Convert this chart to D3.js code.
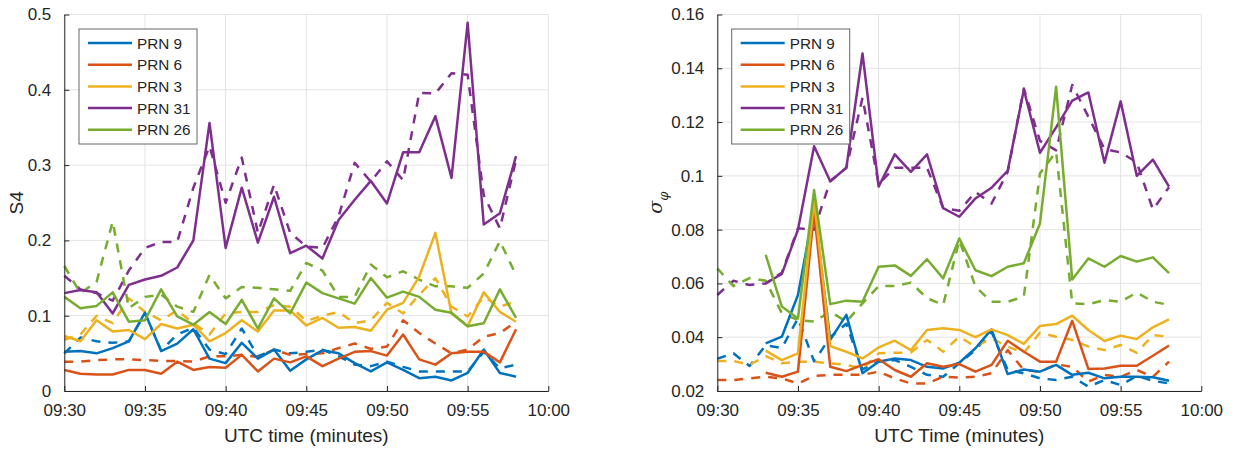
<!DOCTYPE html>
<html>
<head>
<meta charset="utf-8">
<script src="https://cdn.jsdelivr.net/npm/d3@7"></script>
<style>
  body { margin: 0; background: #fff; }
  svg text { font-family: "Liberation Sans", Arial, sans-serif; fill: #262626; }
</style>
</head>
<body>
<div id="chart"></div>
<script>
// minutes after 09:30, one sample per minute
const minutes = [0,1,2,3,4,5,6,7,8,9,10,11,12,13,14,15,16,17,18,19,20,21,22,23,24,25,26,27,28];
const timeTickValues = [0,5,10,15,20,25,30];
const timeTickLabels = ["09:30","09:35","09:40","09:45","09:50","09:55","10:00"];

const prnNames = ["PRN 9","PRN 6","PRN 3","PRN 31","PRN 26"];
const prnColors = ["#0072BD","#D95319","#EDB120","#7E2F8E","#77AC30"];

// S4 (left panel) - solid and dashed
const s4Prn9 = [0.052,0.053,0.05,0.057,0.066,0.104,0.053,0.063,0.082,0.043,0.037,0.064,0.043,0.055,0.027,0.042,0.054,0.05,0.037,0.026,0.038,0.028,0.017,0.019,0.014,0.024,0.055,0.024,0.019];
const s4Prn9Dash = [0.05,0.071,0.066,0.064,0.066,0.103,0.054,0.075,0.084,0.055,0.049,0.083,0.046,0.055,0.05,0.052,0.055,0.046,0.035,0.033,0.039,0.032,0.026,0.026,0.026,0.026,0.052,0.03,0.035];
const s4Prn6 = [0.028,0.023,0.022,0.022,0.028,0.028,0.023,0.039,0.028,0.032,0.031,0.048,0.026,0.043,0.038,0.046,0.033,0.043,0.052,0.053,0.047,0.075,0.042,0.035,0.05,0.052,0.052,0.038,0.082];
const s4Prn6Dash = [0.039,0.039,0.041,0.042,0.042,0.041,0.04,0.04,0.039,0.046,0.046,0.048,0.045,0.055,0.048,0.049,0.05,0.057,0.063,0.056,0.059,0.094,0.077,0.063,0.05,0.055,0.072,0.077,0.092];
const s4Prn3 = [0.073,0.066,0.094,0.079,0.081,0.069,0.089,0.083,0.088,0.066,0.077,0.094,0.079,0.107,0.107,0.087,0.097,0.084,0.085,0.08,0.108,0.117,0.152,0.21,0.103,0.086,0.131,0.105,0.092];
const s4Prn3Dash = [0.068,0.075,0.1,0.09,0.123,0.105,0.094,0.107,0.09,0.075,0.103,0.105,0.105,0.114,0.112,0.093,0.1,0.105,0.09,0.094,0.117,0.103,0.128,0.15,0.112,0.099,0.125,0.112,0.119];
const s4Prn31 = [0.13,0.134,0.131,0.103,0.141,0.148,0.153,0.164,0.2,0.356,0.19,0.27,0.197,0.258,0.183,0.193,0.176,0.227,0.254,0.279,0.249,0.317,0.317,0.365,0.283,0.489,0.221,0.236,0.312];
const s4Prn31Dash = [0.153,0.135,0.13,0.12,0.16,0.19,0.198,0.198,0.27,0.325,0.25,0.31,0.21,0.274,0.21,0.192,0.19,0.232,0.303,0.278,0.305,0.28,0.396,0.395,0.422,0.42,0.26,0.216,0.307];
const s4Prn26 = [0.125,0.11,0.113,0.131,0.092,0.094,0.135,0.099,0.088,0.105,0.089,0.121,0.083,0.123,0.103,0.144,0.13,0.123,0.116,0.15,0.124,0.132,0.125,0.108,0.104,0.086,0.09,0.135,0.097];
const s4Prn26Dash = [0.166,0.13,0.145,0.225,0.11,0.125,0.128,0.112,0.105,0.154,0.123,0.138,0.137,0.135,0.133,0.17,0.16,0.125,0.125,0.168,0.151,0.159,0.148,0.139,0.139,0.137,0.156,0.199,0.154];

// sigma phi (right panel) - solid lines start at 09:33
const phiPrn9 = [null,null,null,0.0377,0.0402,0.0557,0.088,0.039,0.0483,0.0266,0.0309,0.0321,0.0315,0.029,0.0284,0.0305,0.0359,0.0429,0.0263,0.028,0.0272,0.0297,0.026,0.0268,0.0247,0.0253,0.0253,0.0251,0.0238];
const phiPrn9Dash = [0.032,0.034,0.0293,0.037,0.036,0.047,0.031,0.04,0.045,0.028,0.031,0.0315,0.029,0.026,0.0253,0.0303,0.0352,0.042,0.0278,0.0266,0.0247,0.0241,0.0253,0.0216,0.0241,0.0222,0.0256,0.0238,0.0228];
const phiPrn6 = [null,null,null,0.0268,0.0253,0.0272,0.0867,0.029,0.0274,0.0297,0.0318,0.0278,0.0253,0.0303,0.029,0.03,0.0272,0.0297,0.0387,0.0346,0.0309,0.0309,0.0461,0.0282,0.0284,0.0294,0.0294,0.0331,0.0369];
const phiPrn6Dash = [0.0241,0.0241,0.0247,0.0253,0.0247,0.0228,0.0256,0.026,0.026,0.026,0.0272,0.0247,0.0228,0.0228,0.0253,0.025,0.0253,0.0266,0.0352,0.0278,0.0272,0.0299,0.029,0.0235,0.026,0.0253,0.0278,0.0253,0.0309];
const phiPrn3 = [null,null,null,0.035,0.0315,0.034,0.091,0.0367,0.0346,0.0321,0.0362,0.0387,0.0352,0.0427,0.0433,0.0427,0.04,0.0429,0.0408,0.0375,0.0442,0.0449,0.048,0.0427,0.0386,0.0406,0.0393,0.0437,0.0466];
const phiPrn3Dash = [0.0312,0.0312,0.0297,0.033,0.0303,0.0309,0.0309,0.0303,0.0297,0.0284,0.034,0.0342,0.0343,0.039,0.0346,0.0402,0.0365,0.0396,0.0365,0.0342,0.0417,0.0402,0.039,0.0365,0.0352,0.0371,0.0342,0.0408,0.0402];
const phiPrn31 = [null,null,null,0.06,0.0635,0.08,0.111,0.098,0.103,0.1455,0.096,0.108,0.1015,0.108,0.088,0.0848,0.0916,0.0956,0.1019,0.132,0.1086,0.118,0.128,0.131,0.1049,0.1277,0.1,0.106,0.096];
const phiPrn31Dash = [0.0557,0.061,0.0594,0.06,0.064,0.0805,0.08,0.098,0.103,0.129,0.097,0.103,0.103,0.103,0.088,0.087,0.094,0.0897,0.1015,0.1325,0.113,0.1095,0.1338,0.122,0.11,0.1087,0.105,0.0875,0.0958];
const phiPrn26 = [null,null,null,0.0706,0.0514,0.047,0.0947,0.0523,0.0536,0.0532,0.0662,0.0667,0.0628,0.069,0.0619,0.0767,0.0649,0.0627,0.0662,0.0675,0.0823,0.1331,0.0615,0.0693,0.0662,0.0702,0.0681,0.0697,0.0638];
const phiPrn26Dash = [0.0656,0.059,0.062,0.061,0.0489,0.0464,0.0458,0.0495,0.0458,0.0526,0.059,0.059,0.0603,0.0545,0.052,0.0761,0.0588,0.0532,0.0532,0.0551,0.1009,0.109,0.0526,0.0523,0.0538,0.0532,0.0566,0.0532,0.052];

const s4Ticks = [0,0.1,0.2,0.3,0.4,0.5];
const s4TickLabels = ["0","0.1","0.2","0.3","0.4","0.5"];
const phiTicks = [0.02,0.04,0.06,0.08,0.1,0.12,0.14,0.16];
const phiTickLabels = ["0.02","0.04","0.06","0.08","0.1","0.12","0.14","0.16"];

const svg = d3.select("#chart").append("svg")
    .attr("width", 1234)
    .attr("height", 450);

// draw one panel
function drawPanel(p) {
    const x = d3.scaleLinear().domain([0, 30]).range([p.left, p.right]);
    const y = d3.scaleLinear().domain(p.yDomain).range([p.bottom, p.top]);
    const g = svg.append("g");

    // grid
    g.append("g").selectAll("line.gx")
        .data(timeTickValues).enter().append("line")
        .attr("x1", d => x(d)).attr("x2", d => x(d))
        .attr("y1", p.top).attr("y2", p.bottom)
        .attr("stroke", "#e3e3e3").attr("stroke-width", 1);
    g.append("g").selectAll("line.gy")
        .data(p.yTicks).enter().append("line")
        .attr("x1", p.left).attr("x2", p.right)
        .attr("y1", d => y(d)).attr("y2", d => y(d))
        .attr("stroke", "#e3e3e3").attr("stroke-width", 1);

    // lines: dashed first, solid on top
    const line = d3.line()
        .defined(d => d.v != null)
        .x(d => x(d.m))
        .y(d => y(d.v));

    p.series.forEach((s, i) => {
        g.append("path")
            .datum(minutes.map((m, k) => ({ m: m, v: s.dash[k] })))
            .attr("fill", "none")
            .attr("stroke", prnColors[i])
            .attr("stroke-width", 2.5)
            .attr("stroke-dasharray", "9,8")
            .attr("stroke-linejoin", "round")
            .attr("d", line);
    });
    p.series.forEach((s, i) => {
        g.append("path")
            .datum(minutes.map((m, k) => ({ m: m, v: s.solid[k] })))
            .attr("fill", "none")
            .attr("stroke", prnColors[i])
            .attr("stroke-width", 2.5)
            .attr("stroke-linejoin", "round")
            .attr("d", line);
    });

    // axes (matlab style, ticks inside)
    const xAxis = d3.axisBottom(x)
        .tickValues(timeTickValues)
        .tickFormat((d, i) => timeTickLabels[i])
        .tickSizeInner(-5).tickSizeOuter(0).tickPadding(13);
    const gx = g.append("g")
        .attr("transform", `translate(0,${p.bottom})`)
        .call(xAxis);
    const yAxis = d3.axisLeft(y)
        .tickValues(p.yTicks)
        .tickFormat((d, i) => p.yTickLabels[i])
        .tickSizeInner(-5).tickSizeOuter(0).tickPadding(13);
    const gy = g.append("g")
        .attr("transform", `translate(${p.left},0)`)
        .call(yAxis);
    [gx, gy].forEach(a => {
        a.select(".domain").attr("stroke", "#262626").attr("stroke-width", 1);
        a.selectAll(".tick line").attr("stroke", "#262626");
        a.selectAll(".tick text")
            .style("font-family", "'Liberation Sans', Arial, sans-serif")
            .style("font-size", "17px")
            .attr("fill", "#262626");
    });

    // axis titles
    g.append("text")
        .attr("x", (p.left + p.right) / 2)
        .attr("y", 442)
        .attr("text-anchor", "middle")
        .style("font-size", "19px")
        .text(p.xLabel);

    const yl = g.append("text")
        .attr("transform", `translate(${p.yLabelX},${(p.top + p.bottom) / 2}) rotate(-90)`)
        .attr("text-anchor", "middle")
        .style("font-size", "19px");
    if (p.yLabel === "sigma") {
        yl.append("tspan").style("font-family", "'DejaVu Serif', serif").style("font-style", "italic").text("σ");
        yl.append("tspan").attr("dy", 6).style("font-size", "13px")
            .style("font-family", "'DejaVu Serif', serif").style("font-style", "italic").text("φ");
    } else {
        yl.text(p.yLabel);
    }

    // legend
    const lg = g.append("g").attr("transform", `translate(${p.legendX},29)`);
    lg.append("rect")
        .attr("width", 118).attr("height", 115)
        .attr("fill", "#fff")
        .attr("stroke", "#666").attr("stroke-width", 1);
    prnNames.forEach((name, i) => {
        const yy = 14 + i * 21.7;
        lg.append("line")
            .attr("x1", 9).attr("x2", 53)
            .attr("y1", yy).attr("y2", yy)
            .attr("stroke", prnColors[i]).attr("stroke-width", 2.5);
        lg.append("text")
            .attr("x", 58).attr("y", yy + 5.5)
            .style("font-size", "15.3px")
            .attr("fill", "#000")
            .text(name);
    });
}

drawPanel({
    left: 64.3, right: 548.3, top: 14.5, bottom: 391,
    yDomain: [0, 0.5], yTicks: s4Ticks, yTickLabels: s4TickLabels,
    xLabel: "UTC time (minutes)", yLabel: "S4", yLabelX: 23,
    legendX: 79,
    series: [
        { solid: s4Prn9, dash: s4Prn9Dash },
        { solid: s4Prn6, dash: s4Prn6Dash },
        { solid: s4Prn3, dash: s4Prn3Dash },
        { solid: s4Prn31, dash: s4Prn31Dash },
        { solid: s4Prn26, dash: s4Prn26Dash }
    ]
});

drawPanel({
    left: 717.3, right: 1201.3, top: 14.5, bottom: 391,
    yDomain: [0.02, 0.16], yTicks: phiTicks, yTickLabels: phiTickLabels,
    xLabel: "UTC Time (minutes)", yLabel: "sigma", yLabelX: 662,
    legendX: 731.7,
    series: [
        { solid: phiPrn9, dash: phiPrn9Dash },
        { solid: phiPrn6, dash: phiPrn6Dash },
        { solid: phiPrn3, dash: phiPrn3Dash },
        { solid: phiPrn31, dash: phiPrn31Dash },
        { solid: phiPrn26, dash: phiPrn26Dash }
    ]
});
</script>
</body>
</html>
